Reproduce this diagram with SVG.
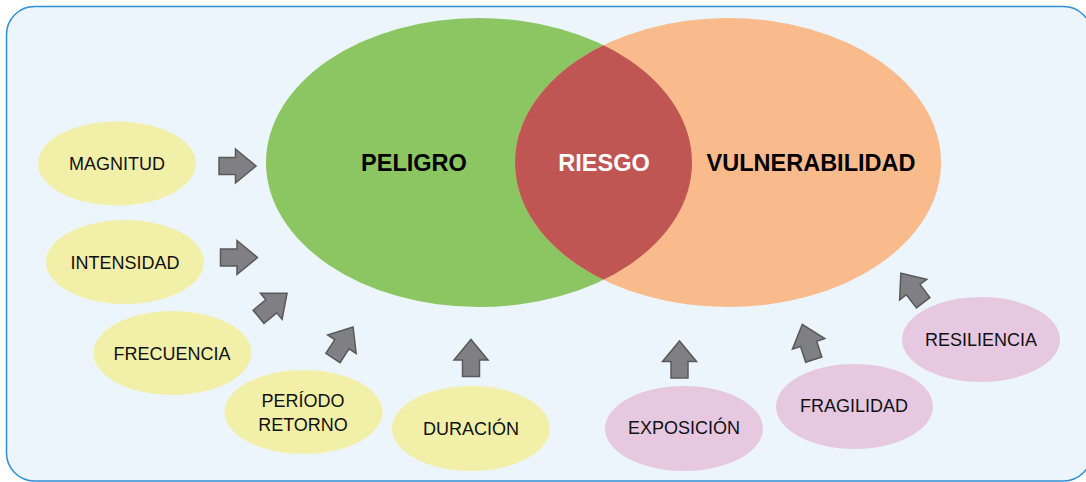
<svg xmlns="http://www.w3.org/2000/svg" width="1086" height="482" viewBox="0 0 1086 482">
<style>
.sm{font-family:"Liberation Sans",Arial,sans-serif;font-size:18px;fill:#111;text-anchor:middle}
.bg{font-family:"Liberation Sans",Arial,sans-serif;font-size:23.5px;font-weight:bold;text-anchor:middle}
.y{fill:#F2F0A8}
.p{fill:#E6C8E0}
.ar{fill:#808084;stroke:#595959;stroke-width:1.5;stroke-linejoin:miter}
</style>
<defs>
<path id="arr" d="M-18.5,-8.5 L-2,-8.5 L-2,-17 L18.5,0 L-2,17 L-2,8.5 L-18.5,8.5 Z"/>
<clipPath id="gclip"><ellipse cx="479" cy="162.5" rx="213" ry="144.5"/></clipPath>
</defs>
<rect x="6.5" y="6.5" width="1085" height="474.5" rx="28" fill="#ECF5FC" stroke="#2E8FD6" stroke-width="1.5"/>
<g id="peligro">
<ellipse cx="479" cy="162.5" rx="213" ry="144.5" fill="#8BC663"/>
<text class="bg" x="414" y="171">PELIGRO</text>
</g>
<g id="vulnerabilidad">
<ellipse cx="728" cy="162.5" rx="213" ry="144.5" fill="#FABB8C"/>
<text class="bg" x="811" y="171">VULNERABILIDAD</text>
</g>
<g id="riesgo">
<ellipse cx="728" cy="162.5" rx="213" ry="144.5" fill="#BF5654" clip-path="url(#gclip)"/>
<text class="bg" x="604" y="171" fill="#fff">RIESGO</text>
</g>
<g id="magnitud"><ellipse class="y" cx="117" cy="163.5" rx="79" ry="42"/><text class="sm" x="117" y="170">MAGNITUD</text></g>
<g id="intensidad"><ellipse class="y" cx="125" cy="262" rx="79" ry="42"/><text class="sm" x="125" y="268.5">INTENSIDAD</text></g>
<g id="frecuencia"><ellipse class="y" cx="172.5" cy="353" rx="79" ry="42"/><text class="sm" x="172" y="359.5">FRECUENCIA</text></g>
<g id="periodo"><ellipse class="y" cx="303.5" cy="412" rx="79" ry="42"/><text class="sm" x="303" y="406.5">PERÍODO</text><text class="sm" x="303" y="430.5">RETORNO</text></g>
<g id="duracion"><ellipse class="y" cx="471" cy="428.5" rx="79" ry="42.5"/><text class="sm" x="471" y="434.5">DURACIÓN</text></g>
<g id="exposicion"><ellipse class="p" cx="684" cy="428.5" rx="79" ry="42.5"/><text class="sm" x="684" y="434">EXPOSICIÓN</text></g>
<g id="fragilidad"><ellipse class="p" cx="854.5" cy="406.5" rx="78.5" ry="42.5"/><text class="sm" x="854" y="412">FRAGILIDAD</text></g>
<g id="resiliencia"><ellipse class="p" cx="981" cy="339.5" rx="79" ry="42.5"/><text class="sm" x="981" y="345.5">RESILIENCIA</text></g>
<g id="connectors">
<use href="#arr" class="ar" transform="translate(237.5,166)"/>
<use href="#arr" class="ar" transform="translate(239,257.5)"/>
<use href="#arr" class="ar" transform="translate(272.8,305) rotate(-39.6)"/>
<use href="#arr" class="ar" transform="translate(343,342.5) rotate(-57)"/>
<use href="#arr" class="ar" transform="translate(471,358) rotate(-90)"/>
<use href="#arr" class="ar" transform="translate(679.5,359.5) rotate(-90)"/>
<use href="#arr" class="ar" transform="translate(808,342) rotate(-108)"/>
<use href="#arr" class="ar" transform="translate(912,288) rotate(-127)"/>
</g>
</svg>
